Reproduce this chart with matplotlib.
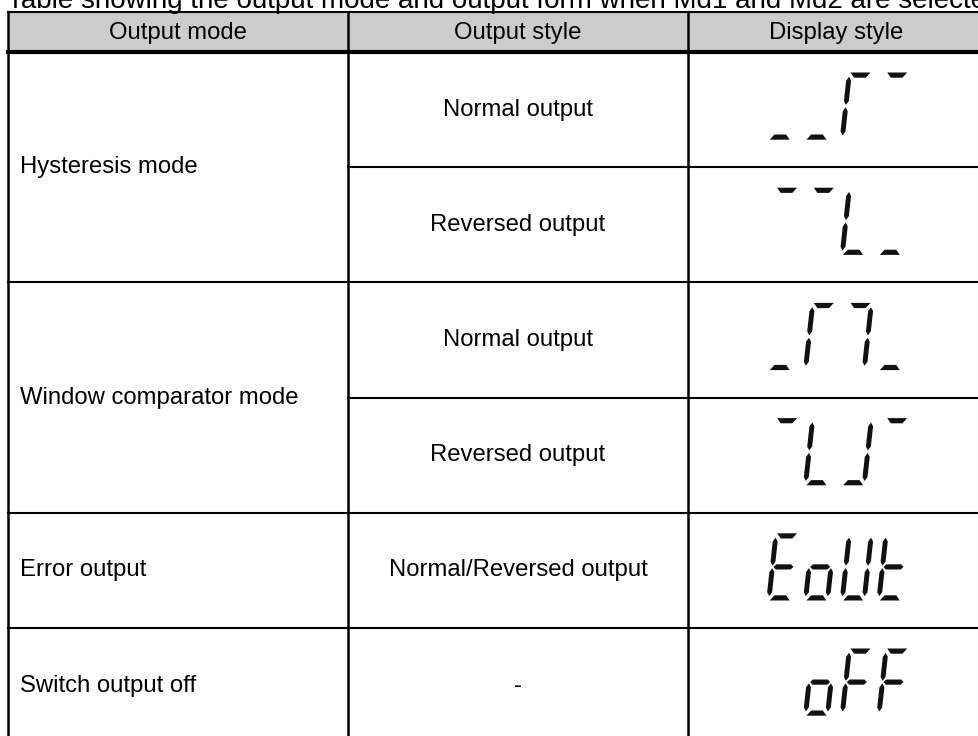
import matplotlib
matplotlib.use("Agg")
import matplotlib.pyplot as plt
from matplotlib.patches import Polygon, Rectangle

plt.rcParams['font.family'] = ['Liberation Sans', 'DejaVu Sans']

title = "Table showing the output mode and output form when Md1 and Md2 are selected."
headers = ["Output mode", "Output style", "Display style"]
modes = ["Hysteresis mode", "Window comparator mode", "Error output", "Switch output off"]
mode_spans = [2, 2, 1, 1]
styles = ["Normal output", "Reversed output", "Normal output", "Reversed output",
          "Normal/Reversed output", "-"]
# 7-segment patterns per display digit (a=top, b=upper right, c=lower right,
# d=bottom, e=lower left, f=upper left, g=middle)
displays = [
    ["d", "d", "aef", "a"],
    ["a", "a", "def", "d"],
    ["d", "aef", "abc", "d"],
    ["a", "def", "bcd", "a"],
    ["adefg", "cdeg", "bcdef", "defg"],
    ["", "cdeg", "aefg", "aefg"],
]

W_PX, H_PX = 979, 736
fig = plt.figure(figsize=(W_PX / 100, H_PX / 100), dpi=100)
ax = fig.add_axes([0, 0, 1, 1])
ax.set_xlim(0, W_PX)
ax.set_ylim(H_PX, 0)
ax.axis("off")

col_x = [8, 348, 688, 985]
header_top, header_bot = 12, 52
row_h = 115.2
row_y = [header_bot + i * row_h for i in range(len(styles) + 1)]
FS = 17.2
LW = 1.5

# header background
ax.add_patch(Rectangle((col_x[0], header_top), col_x[-1] - col_x[0], header_bot - header_top,
                       facecolor="#cccccc", edgecolor="none", zorder=0))

# title (cut off by the top edge, as in the reference)
ax.text(7, 8, title, fontsize=20, ha="left", va="baseline", color="black")

# headers
for i, h in enumerate(headers):
    ax.text((col_x[i] + col_x[i + 1]) / 2, (header_top + header_bot) / 2 + 1, h,
            fontsize=FS, ha="center", va="center")

# grid lines
ax.plot([col_x[0], col_x[-1]], [header_top, header_top], color="black", lw=LW)
ax.plot([col_x[0], col_x[-1]], [header_bot, header_bot], color="black", lw=3)
for x in col_x:
    ax.plot([x, x], [header_top, H_PX + 20], color="black", lw=LW + 0.3)

# mode column
r = 0
for m, span in zip(modes, mode_spans):
    y0, y1 = row_y[r], row_y[r + span]
    ax.text(20, (y0 + y1) / 2, m, fontsize=FS, ha="left", va="center")
    if r > 0:
        ax.plot([col_x[0], col_x[-1]], [y0, y0], color="black", lw=LW)
    for k in range(1, span):
        yy = row_y[r + k]
        ax.plot([col_x[1], col_x[-1]], [yy, yy], color="black", lw=LW)
    r += span

# style column
for i, s in enumerate(styles):
    ax.text((col_x[1] + col_x[2]) / 2, (row_y[i] + row_y[i + 1]) / 2, s,
            fontsize=FS, ha="center", va="center")

# seven segment glyphs
SW, SH, T, G, SL = 22.0, 62.0, 5.2, 1.2, 0.11
h = T / 2


def seg_pts(seg):
    if seg == "a":
        return [(1, SH + h), (SW - 1, SH + h), (SW - 1 - T * 0.8, SH - h), (1 + T * 0.8, SH - h)]
    if seg == "d":
        return [(1, -h), (SW - 1, -h), (SW - 1 - T * 0.8, h), (1 + T * 0.8, h)]
    if seg == "g":
        m = SH / 2
        return [(1, m), (1 + h, m + h), (SW - 1 - h, m + h), (SW - 1, m), (SW - 1 - h, m - h), (1 + h, m - h)]
    x = 0 if seg in "ef" else SW
    if seg in "fb":
        y1, y2 = SH / 2 + G, SH - G - 0.5
    else:
        y1, y2 = G + 0.5, SH / 2 - G
    hw = h * 0.95
    return [(x, y1), (x + hw, y1 + hw * 1.6), (x + hw, y2 - hw * 1.6), (x, y2),
            (x - hw, y2 - hw * 1.6), (x - hw, y1 + hw * 1.6)]


for i, disp in enumerate(displays):
    rc = (row_y[i] + row_y[i + 1]) / 2
    base = rc + 27.5
    for j, digit in enumerate(disp):
        x0 = col_x[2] + 81 + 36.7 * j
        for seg in digit:
            pts = [(x0 + x + SL * y, base - y) for x, y in seg_pts(seg)]
            ax.add_patch(Polygon(pts, closed=True, facecolor="#111111", edgecolor="none", zorder=3))

fig.savefig("out.png", dpi=100)
